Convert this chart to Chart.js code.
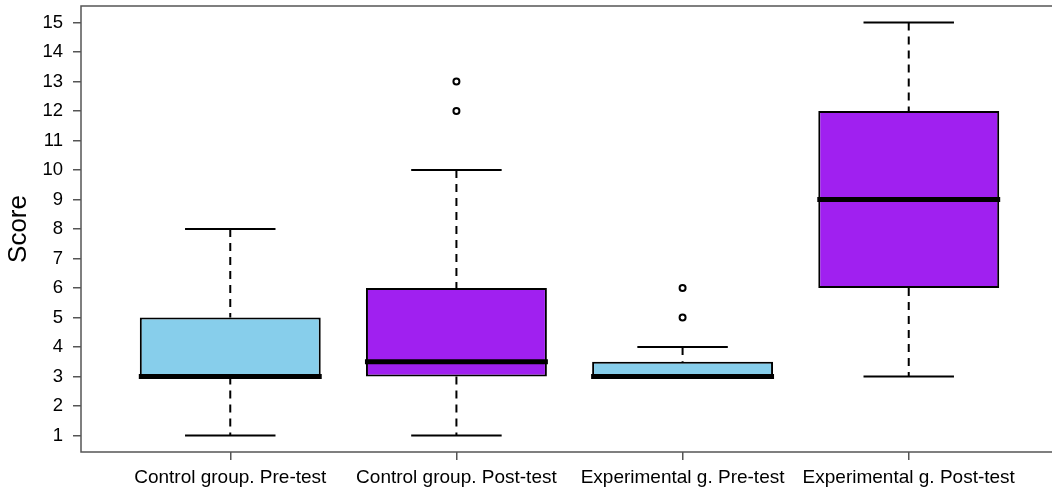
<!DOCTYPE html>
<html>
<head>
<meta charset="utf-8">
<script src="https://cdn.jsdelivr.net/npm/chart.js@4"></script>
<style>
    html, body { margin: 0; padding: 0; background: #fff; overflow: hidden; }
    #wrap { width: 1052px; height: 493px; overflow: hidden; }
</style>
</head>
<body>
<div id="wrap"><canvas id="chart" width="1064" height="493"></canvas></div>
<script>
const categories = ['Control group. Pre-test', 'Control group. Post-test', 'Experimental g. Pre-test', 'Experimental g. Post-test'];
const whiskerLow = [1, 1, 3, 3];
const lowerQuartile = [3, 3, 3, 6];
const medians = [3, 3.5, 3, 9];
const upperQuartile = [5, 6, 3.5, 12];
const whiskerHigh = [8, 10, 4, 15];
const outliers = [[], [12, 13], [5, 6], []];
const boxColors = ['#87CEEB', '#A020F0', '#87CEEB', '#A020F0'];
const yTicks = [1, 2, 3, 4, 5, 6, 7, 8, 9, 10, 11, 12, 13, 14, 15];

const fontFamily = '"Liberation Sans", Arial, sans-serif';

// whiskers, staples, medians and the plot frame
const boxParts = {
    id: 'boxParts',
    afterDatasetsDraw(chart) {
        const {ctx, chartArea} = chart;
        const x = chart.scales.x;
        const y = chart.scales.y;
        const bars = chart.getDatasetMeta(0).data;

        function line(x1, y1, x2, y2) {
            ctx.beginPath();
            ctx.moveTo(x1, y1);
            ctx.lineTo(x2, y2);
            ctx.stroke();
        }

        ctx.save();
        ctx.strokeStyle = '#000';
        categories.forEach((c, i) => {
            const cx = x.getPixelForValue(i + 1);
            const capL = x.getPixelForValue(i + 1 - 0.2);
            const capR = x.getPixelForValue(i + 1 + 0.2);

            ctx.lineWidth = 2;
            ctx.setLineDash([8, 6]);
            if (whiskerHigh[i] > upperQuartile[i])
                line(cx, y.getPixelForValue(whiskerHigh[i]), cx, y.getPixelForValue(upperQuartile[i]));
            if (whiskerLow[i] < lowerQuartile[i])
                line(cx, y.getPixelForValue(lowerQuartile[i]), cx, y.getPixelForValue(whiskerLow[i]));

            ctx.setLineDash([]);
            ctx.lineWidth = 2;
            line(capL, y.getPixelForValue(whiskerHigh[i]), capR, y.getPixelForValue(whiskerHigh[i]));
            line(capL, y.getPixelForValue(whiskerLow[i]), capR, y.getPixelForValue(whiskerLow[i]));

            const bar = bars[i];
            const ym = y.getPixelForValue(medians[i]);
            ctx.lineWidth = 5;
            line(bar.x - bar.width / 2 - 1, ym, bar.x + bar.width / 2 + 1, ym);
        });

        ctx.strokeStyle = '#555';
        ctx.lineWidth = 1.5;
        ctx.strokeRect(chartArea.left, chartArea.top, chartArea.right - chartArea.left, chartArea.bottom - chartArea.top);
        ctx.restore();
    }
};

const outlierPoints = [];
outliers.forEach((list, i) => list.forEach(v => outlierPoints.push({x: i + 1, y: v})));

new Chart(document.getElementById('chart'), {
    type: 'bar',
    data: {
        datasets: [{
            type: 'bar',
            data: categories.map((c, i) => ({x: i + 1, y: [lowerQuartile[i], upperQuartile[i]]})),
            backgroundColor: boxColors,
            borderColor: '#000',
            borderWidth: 2,
            borderSkipped: false,
            categoryPercentage: 0.8,
            barPercentage: 1
        }, {
            type: 'scatter',
            data: outlierPoints,
            pointStyle: 'circle',
            pointRadius: 3,
            pointBorderWidth: 2,
            pointBorderColor: '#000',
            pointBackgroundColor: '#fff'
        }]
    },
    options: {
        responsive: false,
        animation: false,
        devicePixelRatio: 1,
        layout: {padding: {left: 0, top: 6, right: 4, bottom: 0}},
        plugins: {legend: {display: false}, tooltip: {enabled: false}},
        scales: {
            x: {
                type: 'linear',
                offset: false,
                min: 0.34,
                max: 4.66,
                afterBuildTicks: scale => {
                    scale.ticks = categories.map((c, i) => ({value: i + 1}));
                },
                afterFit: scale => {
                    scale.height = 41;
                    scale.paddingLeft = 0;
                    scale.paddingRight = 0;
                },
                border: {display: false},
                grid: {offset: false, drawOnChartArea: false, drawTicks: true, tickLength: 8, color: '#555', lineWidth: 1.5},
                ticks: {
                    autoSkip: false,
                    maxRotation: 0,
                    padding: 6,
                    color: '#000',
                    font: {family: fontFamily, size: 19},
                    callback: v => categories[v - 1]
                }
            },
            y: {
                min: 0.44,
                max: 15.56,
                afterBuildTicks: scale => {
                    scale.ticks = yTicks.map(v => ({value: v}));
                },
                afterFit: scale => {
                    scale.width = 81;
                    scale.paddingTop = 0;
                    scale.paddingBottom = 0;
                },
                border: {display: false},
                grid: {drawOnChartArea: false, drawTicks: true, tickLength: 8, color: '#555', lineWidth: 1.5},
                ticks: {
                    padding: 10,
                    color: '#000',
                    font: {family: fontFamily, size: 18.5}
                },
                title: {
                    display: true,
                    text: 'Score',
                    color: '#000',
                    padding: {top: 3, bottom: 0},
                    font: {family: fontFamily, size: 26}
                }
            }
        }
    },
    plugins: [boxParts]
});
</script>
</body>
</html>
